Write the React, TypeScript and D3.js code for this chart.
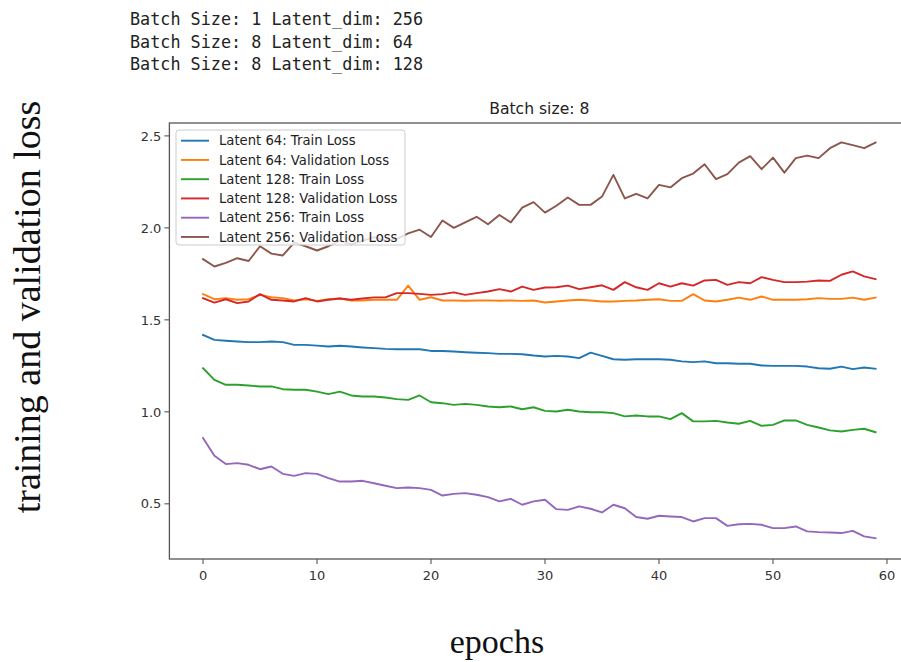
import React from "react";
import * as d3 from "d3";

const headerLines = [
  "Batch Size: 1 Latent_dim: 256",
  "Batch Size: 8 Latent_dim: 64",
  "Batch Size: 8 Latent_dim: 128",
];

const title = "Batch size: 8";
const yLabel = "training and validation loss";
const xLabel = "epochs";

const xTicks = [0, 10, 20, 30, 40, 50, 60];
const yTicks = [0.5, 1.0, 1.5, 2.0, 2.5];

const latent64Train = [
  1.418, 1.391, 1.386, 1.382, 1.379, 1.379, 1.382, 1.379, 1.364, 1.364,
  1.36, 1.355, 1.359, 1.355, 1.35, 1.346, 1.342, 1.34, 1.34, 1.34,
  1.331, 1.331, 1.328, 1.324, 1.321, 1.319, 1.315, 1.315, 1.313, 1.306,
  1.301, 1.304, 1.301, 1.292, 1.322, 1.304, 1.286, 1.283, 1.286, 1.286,
  1.286, 1.283, 1.274, 1.27, 1.274, 1.264, 1.264, 1.261, 1.261, 1.252,
  1.25, 1.25, 1.25, 1.246, 1.237, 1.234, 1.246, 1.232, 1.241, 1.234,
];

const latent64Val = [
  1.64, 1.612, 1.618, 1.609, 1.612, 1.636, 1.623, 1.618, 1.605, 1.612,
  1.603, 1.612, 1.616, 1.605, 1.605, 1.609, 1.609, 1.609, 1.686, 1.609,
  1.623, 1.605, 1.605, 1.604, 1.605, 1.606, 1.604, 1.605, 1.603, 1.605,
  1.594, 1.6, 1.605, 1.609, 1.605, 1.6, 1.6, 1.603, 1.605, 1.609,
  1.612, 1.603, 1.603, 1.64, 1.605, 1.6, 1.609, 1.621, 1.609, 1.627,
  1.609, 1.609, 1.609, 1.612, 1.618, 1.614, 1.614, 1.621, 1.609, 1.621,
];

const latent128Train = [
  1.237, 1.174, 1.147, 1.147, 1.143, 1.138, 1.138, 1.123, 1.12, 1.12,
  1.11, 1.096, 1.11, 1.089, 1.083, 1.083, 1.078, 1.069, 1.065, 1.089,
  1.052, 1.047, 1.038, 1.043, 1.038, 1.029, 1.025, 1.029, 1.014, 1.025,
  1.005, 1.002, 1.011, 1.002, 0.998, 0.998, 0.993, 0.975, 0.98, 0.975,
  0.975, 0.96, 0.993, 0.948, 0.948, 0.951, 0.942, 0.935, 0.951, 0.924,
  0.929, 0.953, 0.953, 0.929, 0.915, 0.899, 0.893, 0.902, 0.908, 0.889,
];

const latent128Val = [
  1.618, 1.594, 1.612, 1.591, 1.6, 1.64, 1.609, 1.605, 1.6, 1.618,
  1.6, 1.609, 1.616, 1.609, 1.616, 1.622, 1.622, 1.645, 1.645, 1.641,
  1.636, 1.64, 1.649, 1.636, 1.645, 1.654, 1.667, 1.654, 1.681, 1.663,
  1.676, 1.677, 1.686, 1.667, 1.677, 1.688, 1.663, 1.705, 1.677, 1.663,
  1.699, 1.681, 1.699, 1.686, 1.714, 1.717, 1.69, 1.705, 1.699, 1.732,
  1.717, 1.705, 1.705, 1.708, 1.714, 1.712, 1.745, 1.763, 1.736, 1.721,
];

const latent256Train = [
  0.857, 0.761, 0.716, 0.721, 0.712, 0.688, 0.703, 0.663, 0.652, 0.667,
  0.663, 0.64, 0.621, 0.621, 0.625, 0.612, 0.598, 0.585, 0.589, 0.585,
  0.576, 0.545, 0.554, 0.558, 0.549, 0.536, 0.513, 0.527, 0.495, 0.513,
  0.522, 0.471, 0.467, 0.486, 0.473, 0.453, 0.495, 0.476, 0.428, 0.419,
  0.435, 0.431, 0.428, 0.404, 0.422, 0.422, 0.38, 0.389, 0.391, 0.386,
  0.368, 0.368, 0.377, 0.35, 0.346, 0.344, 0.341, 0.353, 0.323, 0.313,
];

const latent256Val = [
  1.83, 1.79, 1.81, 1.835, 1.82, 1.9, 1.86, 1.85, 1.92, 1.9,
  1.877, 1.9, 1.93, 1.91, 1.93, 1.95, 1.93, 1.94, 1.97, 1.99,
  1.95, 2.04, 2.0, 2.03, 2.06, 2.02, 2.07, 2.03, 2.11, 2.14,
  2.083, 2.12, 2.165, 2.125, 2.125, 2.17, 2.288, 2.16, 2.185, 2.16,
  2.234, 2.22, 2.27, 2.295, 2.346, 2.265, 2.292, 2.355, 2.39, 2.319,
  2.382, 2.3, 2.379, 2.393, 2.379, 2.433, 2.465, 2.45, 2.433, 2.464,
];

const seriesNames = [
  "Latent 64: Train Loss",
  "Latent 64: Validation Loss",
  "Latent 128: Train Loss",
  "Latent 128: Validation Loss",
  "Latent 256: Train Loss",
  "Latent 256: Validation Loss",
];
const seriesValues = [
  latent64Train,
  latent64Val,
  latent128Train,
  latent128Val,
  latent256Train,
  latent256Val,
];
const seriesColors = ["#1f77b4", "#ff7f0e", "#2ca02c", "#d62728", "#9467bd", "#8c564b"];

export default function App() {
  const W = 901;
  const H = 662;
  const plotLeft = 169.4;
  const plotRight = 909.2;
  const plotTop = 123;
  const plotBottom = 559;

  const n = latent64Train.length;
  const pad = (n - 1) * 0.05;
  const x = d3.scaleLinear().domain([-pad, n - 1 + pad]).range([plotLeft, plotRight]);
  const y = d3.scaleLinear().domain([0.2, 2.57]).range([plotBottom, plotTop]);

  const line = d3
    .line<number>()
    .x((_, i) => x(i))
    .y((d) => y(d));

  const sansFont = "'DejaVu Sans', sans-serif";
  const tickColor = "#333";
  const spine = "#555";

  const legendX = 176;
  const legendY = 130;
  const legendW = 229;
  const legendH = 115;
  const rowH = 19.25;

  return (
    <svg
      width={W}
      height={H}
      style={{ position: "absolute", left: 0, top: 0, background: "#fff" }}
    >
      <rect x={0} y={0} width={W} height={H} fill="#fff" />
      {headerLines.map((t, i) => (
        <text
          key={i}
          x={130}
          y={25 + i * 22.5}
          fontFamily="'DejaVu Sans Mono', monospace"
          fontSize={16.8}
          fill="#222"
        >
          {t}
        </text>
      ))}

      <text
        x={(plotLeft + plotRight) / 2}
        y={114}
        textAnchor="middle"
        fontFamily={sansFont}
        fontSize={15.6}
        fill="#222"
      >
        {title}
      </text>

      <defs>
        <clipPath id="plotclip">
          <rect x={plotLeft} y={plotTop} width={plotRight - plotLeft} height={plotBottom - plotTop} />
        </clipPath>
      </defs>

      <g clipPath="url(#plotclip)">
        {seriesValues.map((vals, k) => (
          <path
            key={k}
            d={line(vals) || ""}
            fill="none"
            stroke={seriesColors[k]}
            strokeWidth={1.9}
            strokeLinejoin="round"
            strokeLinecap="square"
          />
        ))}
      </g>

      {/* spines */}
      <rect
        x={plotLeft}
        y={plotTop}
        width={plotRight - plotLeft}
        height={plotBottom - plotTop}
        fill="none"
        stroke={spine}
        strokeWidth={1.3}
      />

      {/* x ticks */}
      {xTicks.map((t) => (
        <g key={t}>
          <line x1={x(t)} x2={x(t)} y1={plotBottom} y2={plotBottom + 5} stroke={spine} strokeWidth={1.1} />
          <text
            x={x(t)}
            y={plotBottom + 21}
            textAnchor="middle"
            fontFamily={sansFont}
            fontSize={13}
            fill={tickColor}
          >
            {t}
          </text>
        </g>
      ))}

      {/* y ticks */}
      {yTicks.map((t) => (
        <g key={t}>
          <line x1={plotLeft - 5} x2={plotLeft} y1={y(t)} y2={y(t)} stroke={spine} strokeWidth={1.1} />
          <text
            x={plotLeft - 8}
            y={y(t)}
            dy="0.36em"
            textAnchor="end"
            fontFamily={sansFont}
            fontSize={13}
            fill={tickColor}
          >
            {t.toFixed(1)}
          </text>
        </g>
      ))}

      {/* legend */}
      <rect
        x={legendX}
        y={legendY}
        width={legendW}
        height={legendH}
        rx={3}
        fill="#fff"
        fillOpacity={0.8}
        stroke="#ccc"
        strokeWidth={1}
      />
      {seriesNames.map((name, k) => {
        const cy = legendY + 10.7 + k * rowH;
        return (
          <g key={name}>
            <line x1={legendX + 5} x2={legendX + 33} y1={cy} y2={cy} stroke={seriesColors[k]} strokeWidth={1.9} />
            <text
              x={legendX + 43}
              y={cy}
              dy="0.36em"
              fontFamily={sansFont}
              fontSize={13.2}
              fill="#222"
            >
              {name}
            </text>
          </g>
        );
      })}

      {/* axis labels */}
      <text
        transform={`translate(40, 307) rotate(-90)`}
        textAnchor="middle"
        fontFamily="'Liberation Serif', 'Times New Roman', serif"
        fontSize={38}
        fill="#111"
      >
        {yLabel}
      </text>
      <text
        x={497}
        y={653}
        textAnchor="middle"
        fontFamily="'Liberation Serif', 'Times New Roman', serif"
        fontSize={34}
        fill="#111"
      >
        {xLabel}
      </text>
    </svg>
  );
}
